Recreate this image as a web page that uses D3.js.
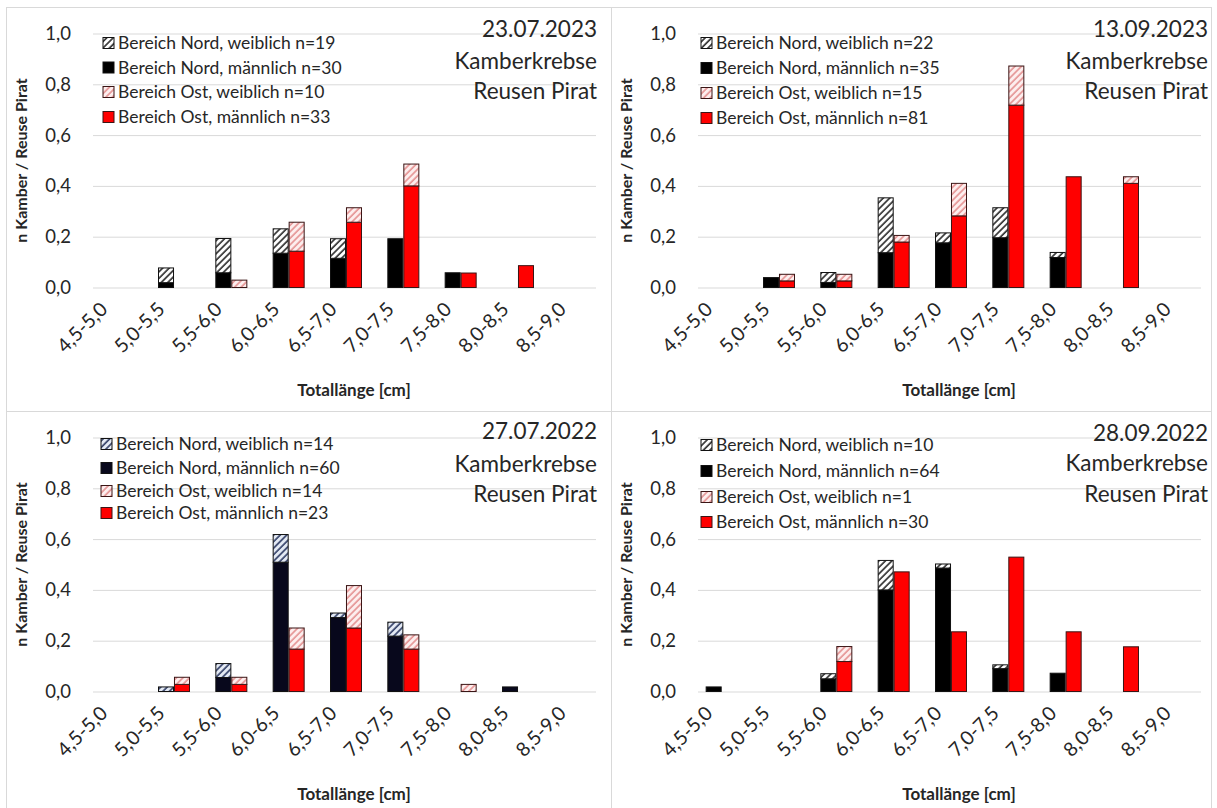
<!DOCTYPE html>
<html>
<head>
<meta charset="utf-8">
<script src="https://cdn.jsdelivr.net/npm/d3@7"></script>
<style>
  body { margin: 0; background: #fff; }
  svg text { font-family: Lato, "Open Sans", sans-serif; fill: #262626; }
</style>
</head>
<body>
<svg id="chart" width="1217" height="808"></svg>
<script>
// Length classes (total length, cm)
const categories = ["4,5-5,0", "5,0-5,5", "5,5-6,0", "6,0-6,5", "6,5-7,0", "7,0-7,5", "7,5-8,0", "8,0-8,5", "8,5-9,0"];
const yTicks = [0, 0.2, 0.4, 0.6, 0.8, 1.0];
const seriesLabels = ["Bereich Nord, weiblich", "Bereich Nord, männlich", "Bereich Ost, weiblich", "Bereich Ost, männlich"];
const subtitleLines = ["Kamberkrebse", "Reusen Pirat"];
const xTitle = "Totallänge [cm]";
const yTitle = "n Kamber / Reuse Pirat";

// 23.07.2023 — catch per trap
const jul2023NordW = [0, 0.058, 0.135, 0.096, 0.077, 0, 0, 0, 0];
const jul2023NordM = [0, 0.019, 0.058, 0.135, 0.115, 0.192, 0.058, 0, 0];
const jul2023OstW  = [0, 0, 0.029, 0.114, 0.057, 0.086, 0, 0, 0];
const jul2023OstM  = [0, 0, 0, 0.143, 0.257, 0.400, 0.057, 0.086, 0];
const jul2023N     = [19, 30, 10, 33];

// 13.09.2023
const sep2023NordW = [0, 0, 0.039, 0.216, 0.039, 0.118, 0.020, 0, 0];
const sep2023NordM = [0, 0.039, 0.020, 0.137, 0.176, 0.196, 0.118, 0, 0];
const sep2023OstW  = [0, 0.026, 0.026, 0.026, 0.128, 0.154, 0, 0.026, 0];
const sep2023OstM  = [0, 0.026, 0.026, 0.179, 0.282, 0.718, 0.436, 0.410, 0];
const sep2023N     = [22, 35, 15, 81];

// 27.07.2022
const jul2022NordW = [0, 0.018, 0.055, 0.109, 0.018, 0.055, 0, 0, 0];
const jul2022NordM = [0, 0, 0.055, 0.509, 0.291, 0.218, 0, 0.018, 0];
const jul2022OstW  = [0, 0.028, 0.028, 0.083, 0.167, 0.056, 0.028, 0, 0];
const jul2022OstM  = [0, 0.028, 0.028, 0.167, 0.250, 0.167, 0, 0, 0];
const jul2022N     = [14, 60, 14, 23];

// 28.09.2022
const sep2022NordW = [0, 0, 0.020, 0.116, 0.016, 0.015, 0, 0, 0];
const sep2022NordM = [0.018, 0, 0.050, 0.400, 0.486, 0.090, 0.072, 0, 0];
const sep2022OstW  = [0, 0, 0.059, 0, 0, 0, 0, 0, 0];
const sep2022OstM  = [0, 0, 0.118, 0.471, 0.235, 0.529, 0.235, 0.176, 0];
const sep2022N     = [10, 64, 1, 30];

const panels = [
  { date: "23.07.2023", nordW: jul2023NordW, nordM: jul2023NordM, ostW: jul2023OstW, ostM: jul2023OstM, n: jul2023N,
    ox: 0, oy: 0, legendX: 103, legendY: [43, 67.5, 92, 117], titleY: [29, 61, 91], titleRight: 597, navy: false },
  { date: "13.09.2023", nordW: sep2023NordW, nordM: sep2023NordM, ostW: sep2023OstW, ostM: sep2023OstM, n: sep2023N,
    ox: 605, oy: 0, legendX: 96, legendY: [43, 68, 93, 118], titleY: [29, 61, 91], titleRight: 603, navy: false },
  { date: "27.07.2022", nordW: jul2022NordW, nordM: jul2022NordM, ostW: jul2022OstW, ostM: jul2022OstM, n: jul2022N,
    ox: 0, oy: 404, legendX: 101, legendY: [40, 64, 87, 109], titleY: [27, 60, 90], titleRight: 597, navy: true },
  { date: "28.09.2022", nordW: sep2022NordW, nordM: sep2022NordM, ostW: sep2022OstW, ostM: sep2022OstM, n: sep2022N,
    ox: 605, oy: 404, legendX: 96, legendY: [41, 67, 93, 118], titleY: [29, 59, 90], titleRight: 603, navy: false }
];

const fmt = d3.formatLocale({ decimal: ",", thousands: ".", grouping: [3], currency: ["", " €"] }).format(".1f");

const svg = d3.select("#chart");
const defs = svg.append("defs");

// Diagonal hatch fill ("/" direction)
function hatch(id, bg, line) {
  const p = defs.append("pattern")
    .attr("id", id)
    .attr("patternUnits", "userSpaceOnUse")
    .attr("width", 4.6).attr("height", 4.6)
    .attr("patternTransform", "rotate(45)");
  p.append("rect").attr("width", 4.6).attr("height", 4.6).attr("fill", bg);
  p.append("line").attr("x1", 1).attr("y1", 0).attr("x2", 1).attr("y2", 4.6)
    .attr("stroke", line).attr("stroke-width", 1.5);
}

// Panel frames
const frame = svg.append("g").attr("fill", "none").attr("stroke", "#d9d9d9").attr("stroke-width", 1);
frame.append("rect").attr("x", 6.5).attr("y", 7.5).attr("width", 1205).attr("height", 820);
frame.append("line").attr("x1", 611.5).attr("x2", 611.5).attr("y1", 7.5).attr("y2", 808);
frame.append("line").attr("x1", 6.5).attr("x2", 1211.5).attr("y1", 411.5).attr("y2", 411.5);

const x = d3.scaleBand().domain(categories).range([88, 604]).padding(0);
const y = d3.scaleLinear().domain([0, 1]).range([287.5, 33.5]);
const sub = d3.scaleBand().domain(["Nord", "Ost"]).range([-15.5, 15.5]).paddingInner(0.06);
const gridLeft = 93, gridRight = 596;

panels.forEach((p, pi) => {
  const nordMaleFill = p.navy ? "#08081c" : "#000000";
  const nordHatchId = "hNord" + pi, ostHatchId = "hOst" + pi;
  if (p.navy) hatch(nordHatchId, "#e4eaf4", "#22305a");
  else hatch(nordHatchId, "#ffffff", "#1a1a1a");
  hatch(ostHatchId, "#fdeeee", "#e38b8b");

  const fills = {
    Nord: { m: nordMaleFill, w: `url(#${nordHatchId})` },
    Ost:  { m: "#ff0000",    w: `url(#${ostHatchId})` }
  };
  const strokes = { Nord: "#111", Ost: "#3a1515" };

  const g = svg.append("g").attr("transform", `translate(${p.ox},${p.oy})`);

  // Gridlines + y labels
  const yAxis = g.append("g").attr("transform", `translate(${gridLeft},0)`)
    .call(d3.axisLeft(y).tickValues(yTicks).tickFormat(fmt).tickSize(-(gridRight - gridLeft)).tickPadding(22));
  yAxis.select(".domain").remove();
  yAxis.selectAll(".tick line").attr("stroke", "#d9d9d9");
  yAxis.selectAll(".tick text").attr("font-size", 18.5).style("font-family", "Lato, sans-serif").attr("fill", "#262626");

  // x labels
  const xAxis = g.append("g").attr("transform", `translate(0,${y(0)})`)
    .call(d3.axisBottom(x).tickSize(0).tickPadding(0));
  xAxis.select(".domain").remove();
  xAxis.selectAll(".tick text")
    .attr("font-size", 19.5).style("font-family", "Lato, sans-serif").attr("fill", "#262626")
    .attr("text-anchor", "end")
    .attr("dy", 0).attr("y", 0)
    .attr("transform", "translate(-8,23) rotate(-45)");

  // Stacked bars for each area
  [["Nord", p.nordM, p.nordW], ["Ost", p.ostM, p.ostW]].forEach(([grp, male, female]) => {
    const rows = categories.map((c, i) => ({ cat: c, m: male[i], w: female[i] }));
    const layers = d3.stack().keys(["m", "w"])(rows);
    layers.forEach(layer => {
      g.append("g").selectAll("rect")
        .data(layer.filter(d => d[1] - d[0] > 0))
        .join("rect")
        .attr("x", d => x(d.data.cat) + x.bandwidth() / 2 + sub(grp))
        .attr("width", sub.bandwidth())
        .attr("y", d => y(d[1]))
        .attr("height", d => y(d[0]) - y(d[1]))
        .attr("fill", fills[grp][layer.key])
        .attr("stroke", strokes[grp])
        .attr("stroke-width", 1);
    });
  });

  // Legend
  const legendFills = [fills.Nord.w, fills.Nord.m, fills.Ost.w, fills.Ost.m];
  const legendStrokes = [strokes.Nord, strokes.Nord, strokes.Ost, strokes.Ost];
  const lg = g.append("g");
  seriesLabels.forEach((lab, i) => {
    lg.append("rect")
      .attr("x", p.legendX).attr("y", p.legendY[i] - 5.5)
      .attr("width", 11).attr("height", 11)
      .attr("fill", legendFills[i]).attr("stroke", legendStrokes[i]).attr("stroke-width", 1);
    lg.append("text")
      .attr("x", p.legendX + 15).attr("y", p.legendY[i]).attr("dy", "0.36em")
      .attr("font-size", 17.5)
      .text(`${lab} n=${p.n[i]}`);
  });

  // Chart heading, right aligned
  [p.date, ...subtitleLines].forEach((t, i) => {
    g.append("text")
      .attr("x", p.titleRight).attr("y", p.titleY[i]).attr("dy", "0.36em")
      .attr("text-anchor", "end").attr("font-size", 22.5)
      .text(t);
  });

  // Axis titles
  g.append("text")
    .attr("transform", `translate(21,${(y(0) + y(1)) / 2}) rotate(-90)`)
    .attr("text-anchor", "middle").attr("dy", "0.36em")
    .attr("font-size", 16).attr("font-weight", "bold")
    .text(yTitle);
  g.append("text")
    .attr("x", 354).attr("y", 390).attr("dy", "0.36em")
    .attr("text-anchor", "middle")
    .attr("font-size", 17).attr("font-weight", "bold")
    .text(xTitle);
});
</script>
</body>
</html>
